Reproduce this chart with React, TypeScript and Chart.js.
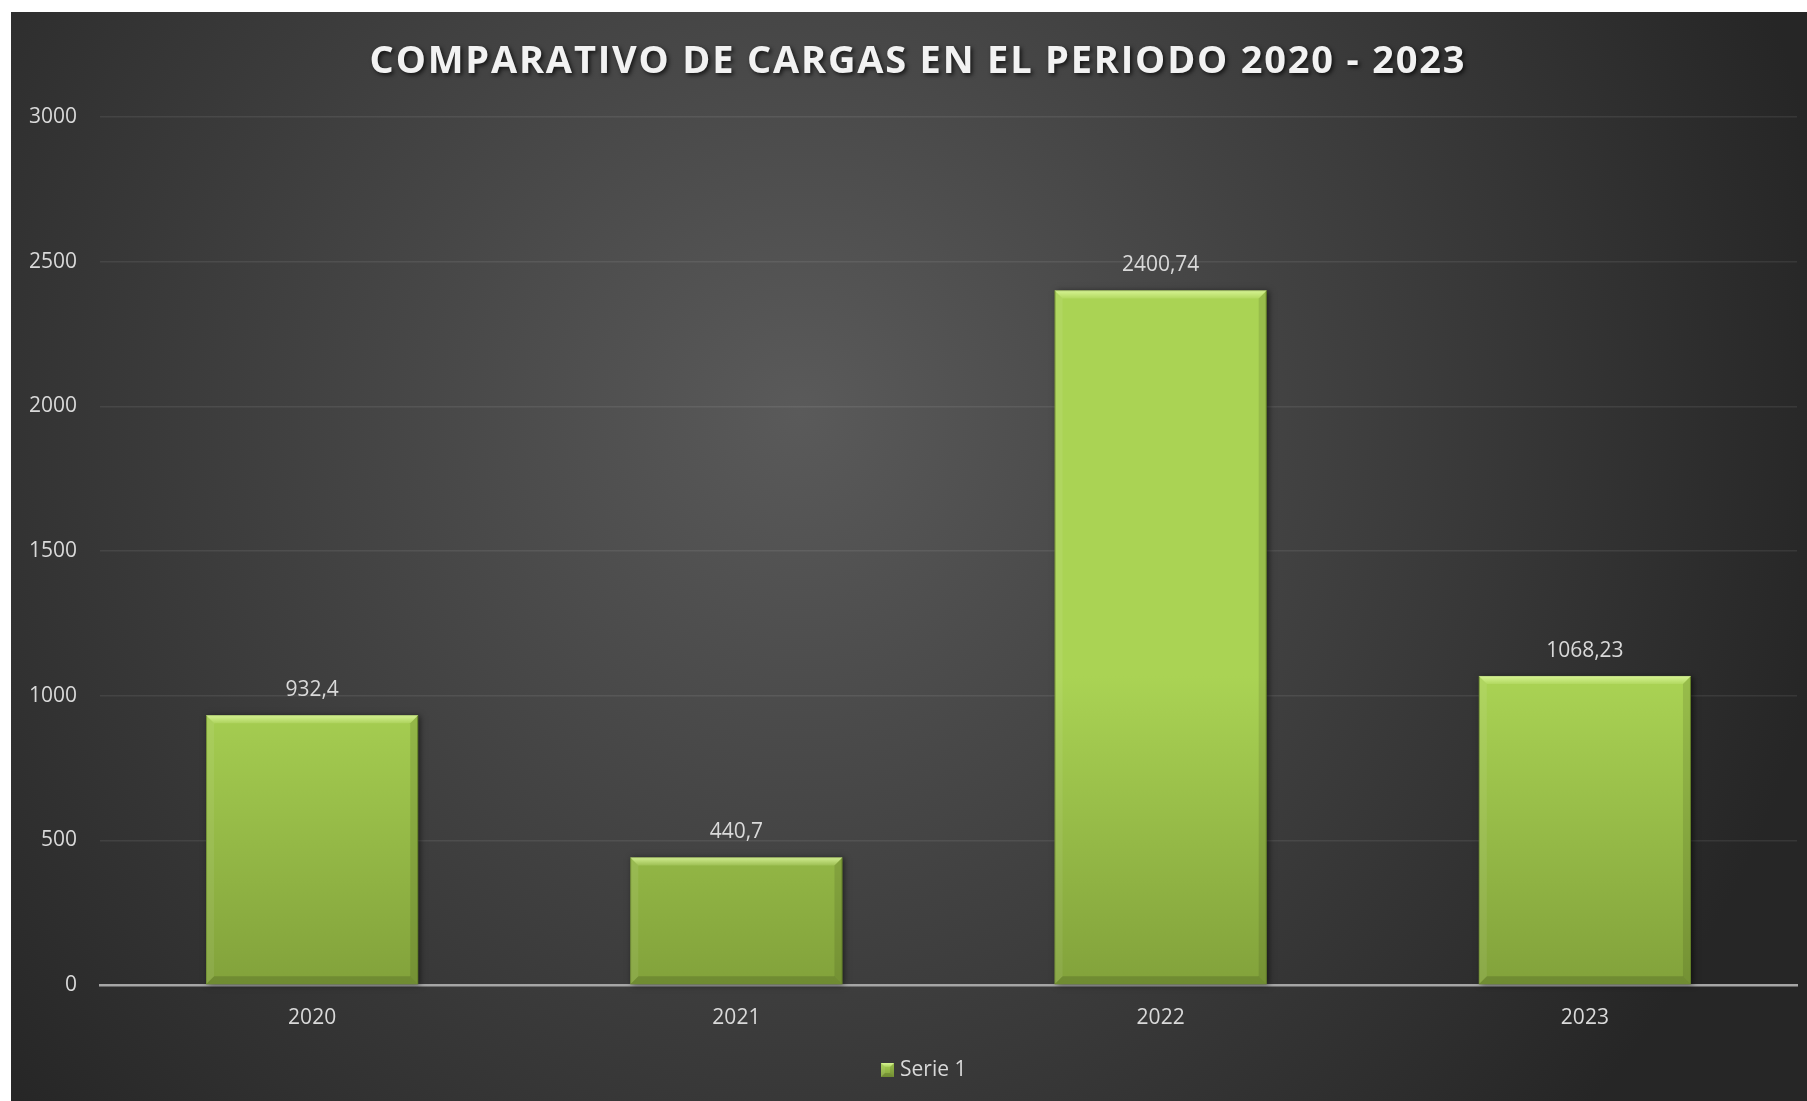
import { useEffect, useRef } from "react";
import { Chart, registerables } from "chart.js";

Chart.register(...registerables);

const TITLE = "COMPARATIVO DE CARGAS EN EL PERIODO 2020 - 2023";
const categories = ["2020", "2021", "2022", "2023"];
const seriesName = "Serie 1";
const values = [932.4, 440.7, 2400.74, 1068.23];
const yMin = 0;
const yMax = 3000;
const yStep = 500;

const W = 1796;
const H = 1089;
const FONT = "'Open Sans', 'DejaVu Sans', sans-serif";
const TEXT = "#d9d9d9";

function fmt(v: number) {
  return String(v).replace(".", ",");
}

function barGradient(ctx: CanvasRenderingContext2D, top: number, bottom: number) {
  const g = ctx.createLinearGradient(0, top, 0, bottom);
  g.addColorStop(0, "#aad354");
  g.addColorStop(1, "#82a23b");
  return g;
}

function bevel(ctx: CanvasRenderingContext2D, L: number, T: number, R: number, B: number, b: number) {
  ctx.save();
  const gt = ctx.createLinearGradient(0, T, 0, T + b);
  gt.addColorStop(0, "rgba(230,255,170,0.75)");
  gt.addColorStop(1, "rgba(230,255,170,0.15)");
  ctx.fillStyle = gt;
  ctx.beginPath();
  ctx.moveTo(L, T);
  ctx.lineTo(R, T);
  ctx.lineTo(R - b, T + b);
  ctx.lineTo(L + b, T + b);
  ctx.closePath();
  ctx.fill();
  ctx.fillStyle = "rgba(255,255,255,0.07)";
  ctx.beginPath();
  ctx.moveTo(L, T);
  ctx.lineTo(L + b, T + b);
  ctx.lineTo(L + b, B - b);
  ctx.lineTo(L, B);
  ctx.closePath();
  ctx.fill();
  ctx.fillStyle = "rgba(0,0,0,0.10)";
  ctx.beginPath();
  ctx.moveTo(R, T);
  ctx.lineTo(R - b, T + b);
  ctx.lineTo(R - b, B - b);
  ctx.lineTo(R, B);
  ctx.closePath();
  ctx.fill();
  ctx.fillStyle = "rgba(0,0,0,0.14)";
  ctx.beginPath();
  ctx.moveTo(L, B);
  ctx.lineTo(L + b, B - b);
  ctx.lineTo(R - b, B - b);
  ctx.lineTo(R, B);
  ctx.closePath();
  ctx.fill();
  ctx.restore();
}

const backgroundPlugin = {
  id: "bg",
  beforeDraw(chart: any) {
    const ctx = chart.ctx as CanvasRenderingContext2D;
    const g = ctx.createRadialGradient(789, 400, 0, 789, 400, 1050);
    g.addColorStop(0, "#5a5a5a");
    g.addColorStop(1, "#262626");
    ctx.save();
    ctx.fillStyle = g;
    ctx.fillRect(0, 0, chart.width, chart.height);
    ctx.restore();
  },
};

const barStylePlugin = {
  id: "barStyle",
  beforeDatasetsDraw(chart: any) {
    const ctx = chart.ctx as CanvasRenderingContext2D;
    const meta = chart.getDatasetMeta(0);
    meta.data.forEach((el: any) => {
      const L = el.x - el.width / 2;
      const R = el.x + el.width / 2;
      const T = el.y;
      const B = el.base;
      el.options.backgroundColor = barGradient(ctx, T, B);
      ctx.save();
      ctx.shadowColor = "rgba(0,0,0,0.55)";
      ctx.shadowBlur = 6;
      ctx.shadowOffsetX = 2;
      ctx.shadowOffsetY = 1;
      ctx.fillStyle = "#7a9a36";
      ctx.fillRect(L, T, R - L, B - T);
      ctx.restore();
    });
  },
  afterDatasetsDraw(chart: any) {
    const ctx = chart.ctx as CanvasRenderingContext2D;
    const meta = chart.getDatasetMeta(0);
    const ds = chart.data.datasets[0];
    meta.data.forEach((el: any, i: number) => {
      const L = el.x - el.width / 2;
      const R = el.x + el.width / 2;
      bevel(ctx, L, el.y, R, el.base, 8);
      ctx.save();
      ctx.font = `21px ${FONT}`;
      ctx.fillStyle = TEXT;
      ctx.textAlign = "center";
      ctx.textBaseline = "alphabetic";
      ctx.fillText(fmt(ds.data[i]), el.x, el.y - 19);
      ctx.restore();
    });
  },
};

const titleLegendPlugin = {
  id: "titleLegend",
  afterDraw(chart: any) {
    const ctx = chart.ctx as CanvasRenderingContext2D;
    ctx.save();
    ctx.font = `bold 38px ${FONT}`;
    (ctx as any).letterSpacing = "1.8px";
    ctx.textAlign = "center";
    ctx.textBaseline = "middle";
    ctx.shadowColor = "rgba(0,0,0,0.7)";
    ctx.shadowBlur = 4;
    ctx.shadowOffsetX = 2;
    ctx.shadowOffsetY = 2;
    ctx.fillStyle = "#f2f2f2";
    ctx.fillText(TITLE, 907, 50);
    ctx.restore();

    const bx = 870, by = 1051, bw = 13, bh = 14;
    ctx.save();
    ctx.fillStyle = barGradient(ctx, by, by + bh);
    ctx.fillRect(bx, by, bw, bh);
    bevel(ctx, bx, by, bx + bw, by + bh, 4);
    ctx.font = `21px ${FONT}`;
    ctx.fillStyle = TEXT;
    ctx.textAlign = "left";
    ctx.textBaseline = "middle";
    ctx.fillText(chart.data.datasets[0].label, 889, 1058);
    ctx.restore();
  },
};

export default function App() {
  const ref = useRef<HTMLCanvasElement | null>(null);

  useEffect(() => {
    if (!ref.current) return;
    const chart = new Chart(ref.current, {
      type: "bar",
      data: {
        labels: categories,
        datasets: [
          {
            label: seriesName,
            data: values,
            backgroundColor: "#9cc44a",
            borderColor: "#6b8a2c",
            borderWidth: 1,
            barPercentage: 0.5,
            categoryPercentage: 1,
          },
        ],
      },
      options: {
        animation: false,
        responsive: false,
        maintainAspectRatio: false,
        devicePixelRatio: 1,
        layout: { padding: { top: 105, right: 10, left: 0, bottom: 0 } },
        plugins: {
          legend: { display: false },
          title: { display: false },
          tooltip: { enabled: false },
        },
        scales: {
          x: {
            afterFit: (s: any) => {
              s.height = 116;
            },
            grid: { display: false, drawTicks: false },
            border: { display: true, color: "#a6a6a6", width: 2.5 },
            ticks: { color: TEXT, font: { family: FONT, size: 21 }, padding: 20 },
          },
          y: {
            min: yMin,
            max: yMax,
            afterFit: (s: any) => {
              s.width = 89;
            },
            grid: { color: "rgba(255,255,255,0.08)", lineWidth: 1.5, drawTicks: false },
            border: { display: false },
            ticks: {
              stepSize: yStep,
              color: TEXT,
              font: { family: FONT, size: 21 },
              padding: 23,
              callback: (v: any) => String(v),
            },
          },
        },
      },
      plugins: [backgroundPlugin, barStylePlugin, titleLegendPlugin],
    });
    return () => chart.destroy();
  }, []);

  return (
    <div style={{ position: "fixed", left: 11, top: 12, width: W, height: H }}>
      <canvas ref={ref} width={W} height={H} style={{ width: W, height: H, display: "block" }} />
    </div>
  );
}
